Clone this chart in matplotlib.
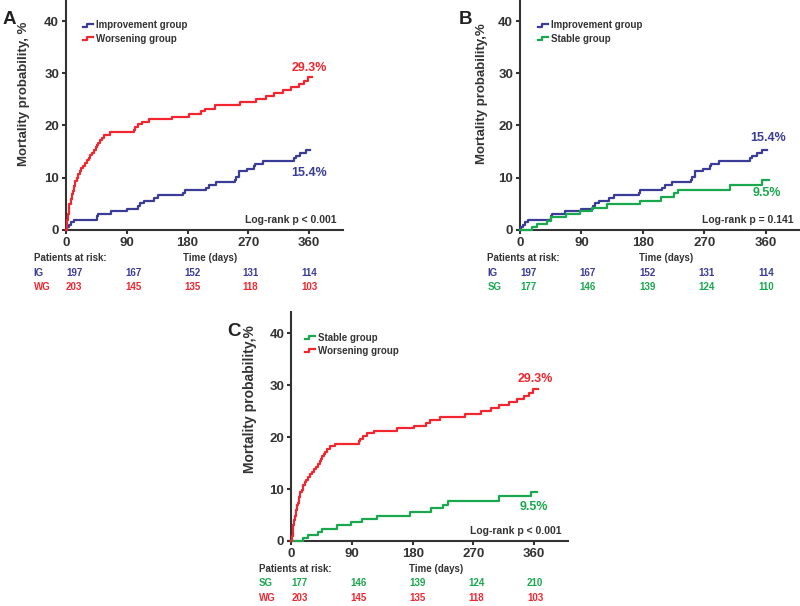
import matplotlib
matplotlib.use("Agg")
import matplotlib.pyplot as plt

plt.rcParams['font.family'] = ['Liberation Sans', 'DejaVu Sans']
plt.rcParams['font.weight'] = 'bold'
plt.rcParams['axes.labelweight'] = 'bold'

# colours
c_ig = '#3b3b98'
c_wg = '#f2262f'
c_sg = '#19a84e'
c_txt = '#333333'

# Kaplan-Meier style cumulative mortality (%), step times in days
ig_t = [0, 2, 5, 8, 12, 46, 47, 66, 90, 107, 110, 115, 130, 137, 174, 176, 208, 212,
        222, 250, 252, 256, 268, 278, 280, 292, 337, 340, 347, 355, 362]
ig_v = [0, 0.5, 1.0, 1.5, 2.0, 2.6, 3.1, 3.6, 4.1, 4.6, 5.1, 5.6, 6.1, 6.6, 7.1, 7.6, 8.1, 8.6,
        9.1, 9.6, 10.2, 11.2, 11.7, 12.2, 12.7, 13.2, 13.7, 14.2, 14.7, 15.4, 15.4]

wg_t = [0, 1, 2, 3, 4, 5, 7, 9, 10, 12, 13, 16, 18, 20, 22, 25, 28, 31, 34, 36, 39, 42, 44,
        46, 48, 50, 53, 57, 65, 100, 102, 106, 112, 123, 157, 182, 200, 206, 221, 258, 281,
        296, 308, 322, 334, 345, 352, 358, 365]
wg_v = [0, 1.0, 2.0, 3.0, 4.0, 4.9, 5.9, 6.9, 7.4, 8.4, 9.4, 9.9, 10.8, 11.3, 11.8, 12.3, 12.8,
        13.3, 13.8, 14.3, 14.8, 15.3, 15.8, 16.3, 16.7, 17.2, 17.7, 18.2, 18.7, 19.2, 19.7, 20.2,
        20.7, 21.2, 21.7, 22.2, 22.7, 23.2, 23.9, 24.5, 25.1, 25.6, 26.2, 26.8, 27.4, 27.9,
        28.5, 29.3, 29.3]

sg_t = [0, 18, 25, 40, 45, 68, 88, 105, 127, 176, 207, 225, 232, 308, 355, 364]
sg_v = [0, 0.6, 1.2, 1.8, 2.4, 3.0, 3.6, 4.2, 4.9, 5.6, 6.3, 7.0, 7.7, 8.6, 9.5, 9.5]

risk_times = [0, 90, 180, 270, 360]
ig_risk = [197, 167, 152, 131, 114]
wg_risk = [203, 145, 135, 118, 103]
sg_risk_b = [177, 146, 139, 124, 110]
sg_risk_c = [177, 146, 139, 124, 210]

groups = {
    'IG': dict(t=ig_t, v=ig_v, color=c_ig, name='Improvement group', end='15.4%'),
    'WG': dict(t=wg_t, v=wg_v, color=c_wg, name='Worsening group', end='29.3%'),
    'SG': dict(t=sg_t, v=sg_v, color=c_sg, name='Stable group', end='9.5%'),
}

fig = plt.figure(figsize=(8, 6.06), dpi=100)


def draw_panel(rect, letter, keys, risks, pval, ylab, lab_pos, end_pos, ylabsize):
    ax = fig.add_axes(rect)
    for k in keys:
        g = groups[k]
        ax.step(g['t'], g['v'], where='post', color=g['color'], lw=1.6,
                zorder=3, clip_on=False)
    ax.set_xlim(0, 410)
    ax.set_ylim(0, 43.5)
    ax.set_xticks([0, 90, 180, 270, 360])
    ax.set_yticks([0, 10, 20, 30, 40])
    for s in ['top', 'right']:
        ax.spines[s].set_visible(False)
    for s in ['left', 'bottom']:
        ax.spines[s].set_linewidth(1.5)
        ax.spines[s].set_color(c_txt)
    ax.spines['left'].set_bounds(0, 44)
    ax.tick_params(length=3, width=1.5, color=c_txt, labelsize=9.5,
                   labelcolor=c_txt, pad=2)
    ax.set_ylabel(ylab, fontsize=ylabsize, color=c_txt)
    ax.yaxis.set_label_coords(lab_pos[0], lab_pos[1])

    # legend with small step icons
    for i, k in enumerate(keys):
        g = groups[k]
        y0 = 0.9 - i * 0.058
        x0 = lab_pos[2]
        ax.plot([x0, x0 + 0.016, x0 + 0.016, x0 + 0.036],
                [y0 - 0.006, y0 - 0.006, y0 + 0.006, y0 + 0.006],
                transform=ax.transAxes, color=g['color'], lw=1.6, clip_on=False)
        ax.text(x0 + 0.046, y0, g['name'], transform=ax.transAxes, fontsize=7,
                color=c_txt, va='center', ha='left')

    # end-of-curve percentages
    for k, (ex, ey) in zip(keys, end_pos):
        g = groups[k]
        ax.text(ex, ey, g['end'], color=g['color'], fontsize=9,
                ha='center', va='center')

    ax.text(400, 2.0, pval, fontsize=7.5, color=c_txt, ha='right', va='center')

    # panel letter
    ax.text(lab_pos[3], 0.927, letter, transform=ax.transAxes, fontsize=13.5,
            color='#222222', ha='left', va='center')

    # patients at risk table
    tr = ax.get_xaxis_transform()
    ax.text(-48, -0.125, 'Patients at risk:', transform=tr, fontsize=7,
            color=c_txt, va='center', ha='left')
    ax.text(214, -0.125, 'Time (days)', transform=tr, fontsize=7,
            color=c_txt, va='center', ha='center')
    for j, (k, vals) in enumerate(zip(keys, risks)):
        col = groups[k]['color']
        yy = -0.188 - j * 0.064
        ax.text(-48, yy, k, transform=tr, fontsize=7, color=col,
                va='center', ha='left')
        for t, n in zip(risk_times, vals):
            ax.text(t * 0.97, yy, str(n), transform=tr, fontsize=7,
                    color=col, va='center', ha='left')
    return ax


draw_panel([0.0825, 0.6205, 0.346, 0.375], 'A', ['IG', 'WG'], [ig_risk, wg_risk],
           'Log-rank p < 0.001', 'Mortality probability, %',
           (-0.13, 0.6, 0.061, -0.228), [(360, 11.0), (360, 31.0)], 9.5)
draw_panel([0.65, 0.6205, 0.35, 0.375], 'B', ['IG', 'SG'], [ig_risk, sg_risk_b],
           'Log-rank p = 0.141', 'Mortality probability,%',
           (-0.114, 0.6, 0.064, -0.22), [(363, 17.7), (361, 7.1)], 9.5)
draw_panel([0.364, 0.1073, 0.346, 0.373], 'C', ['SG', 'WG'], [sg_risk_c, wg_risk],
           'Log-rank p < 0.001', 'Mortality probability,%',
           (-0.123, 0.63, 0.05, -0.23), [(360, 6.5), (361, 31.2)], 10)

fig.savefig('out.png', dpi=100)
